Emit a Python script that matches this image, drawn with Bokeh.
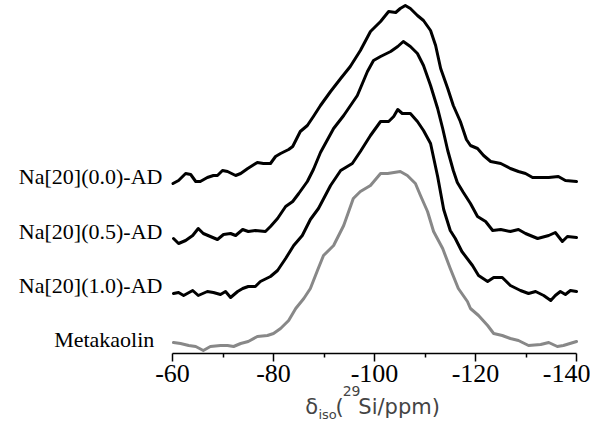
from bokeh.plotting import figure
from bokeh.models import Range1d, FixedTicker, Label
from bokeh.embed import file_html
from bokeh.resources import INLINE

# ---- data ----
ppm_00 = [-60.1, -61.2, -62.6, -63.6, -64.6, -65.5, -66.9, -68.1, -68.9, -69.9, -70.9, -72.5, -73.5, -74.9, -76.8,
          -78.0, -79.4, -80.4, -81.4, -83.0, -83.8, -85.3, -86.7, -87.9, -89.3, -91.3, -93.3, -95.2, -97.2, -99.2,
          -101.2, -102.8, -104.2, -105.1, -106.1, -107.1, -108.5, -109.7, -111.1, -112.1, -113.1, -114.5, -115.6,
          -117.0, -118.2, -119.0, -120.4, -121.6, -123.0, -125.0, -126.9, -128.5, -129.9, -131.3, -132.9, -134.5,
          -136.4, -137.8, -140.0]
int_00 = [0, 3, 10, 9, 2, 2, 6, 8, 8, 13, 12, 8, 10, 15, 21,
          20, 20, 27, 30, 34, 37, 52, 58, 67, 78, 92, 105, 117, 133, 152,
          162, 172, 171, 175, 178, 175, 168, 163, 153, 138, 115, 95, 78,
          62, 44, 38, 35, 28, 22, 20, 15, 12, 10, 6, 6, 6,
          7, 3, 2]

ppm_05 = [-60.2, -61.2, -62.6, -64.0, -65.1, -66.1, -67.5, -68.9, -70.1, -71.5, -72.5, -73.9, -75.0, -76.4, -78.4,
          -79.4, -80.8, -82.4, -83.8, -85.0, -86.7, -87.9, -89.3, -91.9, -93.9, -96.6, -98.6, -99.8, -101.2, -103.2,
          -104.6, -105.7, -107.1, -108.5, -109.7, -111.1, -112.5, -113.5, -114.5, -115.6, -116.4, -117.6, -119.0,
          -120.4, -122.0, -123.4, -125.0, -126.9, -128.5, -129.9, -132.3, -134.5, -135.8, -137.2, -138.2, -140.0]
int_05 = [2, -3, 0, 5, 12, 7, 4, 1, 6, 7, 5, 11, 9, 10, 9,
          14, 22, 34, 39, 47, 59, 71, 88, 112, 125, 145, 169, 180, 184, 189,
          194, 199, 194, 187, 175, 155, 132, 112, 90, 70, 58, 48, 37,
          24, 19, 10, 11, 9, 11, 7, 2, 5, 8, -1, 4, 3]

ppm_10 = [-60.2, -61.2, -62.2, -64.0, -65.1, -66.9, -68.1, -69.5, -70.5, -71.5, -72.9, -73.9, -75.0, -76.4, -77.4,
          -79.4, -80.8, -82.4, -84.0, -85.7, -87.3, -88.9, -91.3, -93.3, -95.6, -97.2, -99.2, -101.2, -102.8, -103.8,
          -104.6, -105.5, -107.1, -108.5, -109.7, -111.1, -112.5, -113.7, -115.0, -116.0, -117.3, -119.4, -120.6,
          -122.4, -123.6, -125.3, -126.9, -128.9, -130.5, -131.9, -133.5, -134.9, -135.8, -136.8, -137.8, -138.8,
          -140.0]
int_10 = [0, 1, -2, 3, -2, 2, 1, -1, 2, -4, 2, 5, 7, 7, 12,
          17, 23, 35, 48, 58, 74, 85, 108, 123, 130, 142, 158, 172, 172, 177,
          184, 180, 180, 172, 163, 150, 117, 84, 63, 55, 42, 28, 18,
          12, 16, 16, 8, 3, 0, 2, -2, -7, -2, 2, -1, 3,
          2]

ppm_mk = [-60.2, -61.6, -63.2, -64.6, -66.1, -67.5, -69.5, -70.9, -72.1, -73.5, -75.0, -76.8, -78.8, -80.0, -81.4,
          -83.0, -84.4, -86.0, -87.3, -88.7, -89.9, -91.9, -93.9, -95.8, -97.2, -99.2, -101.2, -102.6, -105.1, -106.5,
          -108.1, -109.1, -110.5, -111.7, -113.5, -115.0, -116.6, -118.4, -119.0, -120.6, -122.4, -123.6, -125.3,
          -126.9, -128.5, -130.5, -132.9, -134.5, -136.2, -137.4, -140.0]
int_mk = [1, 0, -2, -3, -7, -3, -2, -2, -3, 0, 2, 7, 8, 10, 15,
          23, 35, 45, 55, 73, 88, 98, 118, 145, 152, 158, 170, 170, 172, 168,
          160, 148, 132, 112, 95, 75, 55, 42, 35, 28, 18, 10, 8,
          5, 3, -2, -1, 1, -3, -2, 2]

series_names = ["Na[20](0.0)-AD", "Na[20](0.5)-AD", "Na[20](1.0)-AD", "Metakaolin"]
tick_vals = [-60, -80, -100, -120, -140]
tick_labels = ["-60", "-80", "-100", "-120", "-140"]
minor_vals = [-70, -90, -110, -130]

# ---- figure: frame covers the whole canvas, axis drawn at y = 0 ----
p = figure(width=590, height=425, output_backend="svg", toolbar_location=None,
           x_range=Range1d(-25.94, -142.77), y_range=Range1d(-72, 353),
           y_axis_location=None, min_border_left=0, min_border_right=0,
           min_border_top=0, min_border_bottom=0)
p.outline_line_color = None
p.xgrid.visible = False
p.ygrid.visible = False
p.background_fill_color = "white"

offsets = [170, 113, 60, 10]
colors = ["black", "black", "black", "#888888"]
xs = [ppm_00, ppm_05, ppm_10, ppm_mk]
ys = [int_00, int_05, int_10, int_mk]
for x, y, off, c in zip(xs, ys, offsets, colors):
    p.line(x, [v + off for v in y], line_color=c, line_width=3, line_join="round", line_cap="round")

# series labels
label_x = [-58.0, -58.0, -58.0, -56.4]
label_y = [177, 122, 68, 14]
for name, lx, ly in zip(series_names, label_x, label_y):
    p.add_layout(Label(x=lx, y=ly, text=name, text_align="right", text_baseline="middle",
                       text_font="Liberation Serif", text_font_size="22px", text_color="black"))

ax = p.xaxis[0]
ax.fixed_location = 0
ax.bounds = (-140, -60)
ax.ticker = FixedTicker(ticks=tick_vals, minor_ticks=minor_vals)
ax.major_label_overrides = {v: s for v, s in zip(tick_vals, tick_labels)}
ax.major_label_text_font = "Liberation Serif"
ax.major_label_text_font_size = "26px"
ax.major_label_text_color = "black"
ax.axis_line_width = 1.5
ax.axis_line_color = "black"
ax.major_tick_line_width = 1.5
ax.minor_tick_line_width = 1.5
ax.major_tick_in = 0
ax.major_tick_out = 8
ax.minor_tick_in = 0
ax.minor_tick_out = 4
ax.major_label_standoff = 3

# axis title built from pieces (delta with subscript, isotope superscript)
tf = "DejaVu Sans"
p.add_layout(Label(x=-86.3, y=-53, text="δ", text_font=tf, text_font_size="21px", text_baseline="alphabetic"))
p.add_layout(Label(x=-88.9, y=-61, text="iso", text_font=tf, text_font_size="13px", text_baseline="alphabetic"))
p.add_layout(Label(x=-92.3, y=-53, text="(", text_font=tf, text_font_size="21px", text_baseline="alphabetic"))
p.add_layout(Label(x=-93.7, y=-37, text="29", text_font=tf, text_font_size="14px", text_baseline="alphabetic"))
p.add_layout(Label(x=-96.8, y=-53, text="Si/ppm)", text_font=tf, text_font_size="21px", text_baseline="alphabetic"))

open("out.html", "w").write(file_html(p, INLINE))
